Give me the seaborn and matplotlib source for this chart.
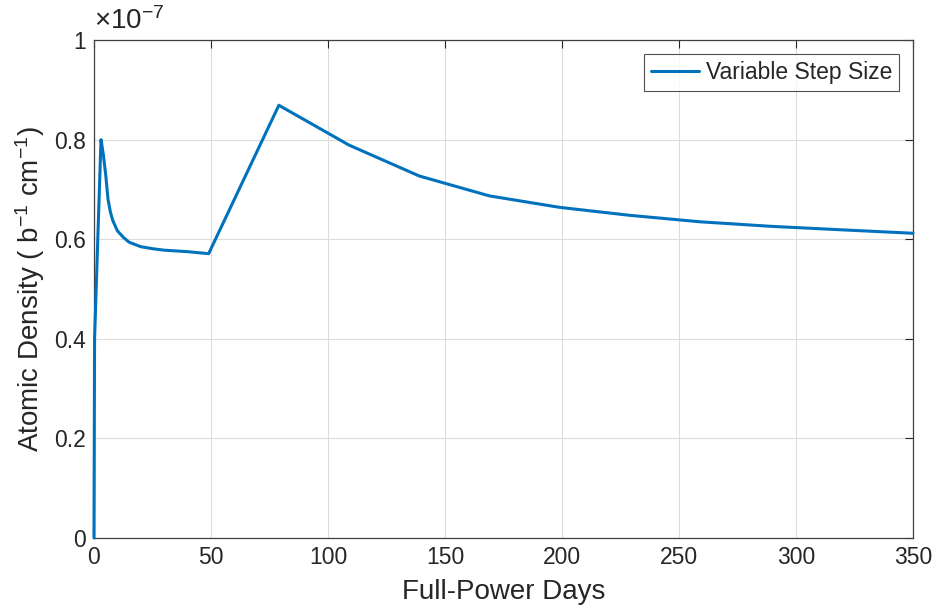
import matplotlib
matplotlib.use("Agg")
import matplotlib.pyplot as plt
import seaborn as sns
import pandas as pd
import numpy as np

# full-power days and atomic density (in units of 1e-7 b^-1 cm^-1)
days = [0, 0.25, 3, 4, 5, 6, 7, 8, 10, 12.5, 15, 20, 25, 30, 40, 49,
        79, 109, 139, 169, 199, 229, 259, 289, 319, 350]
density = [0.0, 0.40, 0.80, 0.77, 0.73, 0.68, 0.655, 0.638, 0.617, 0.604, 0.594, 0.585, 0.581, 0.578, 0.575, 0.571,
           0.869, 0.789, 0.727, 0.687, 0.664, 0.648, 0.635, 0.626, 0.619, 0.612]
series_name = "Variable Step Size"

df = pd.DataFrame({"days": days, "density": density, "series": series_name})

sns.set_theme(style="white")
plt.rcParams['font.family'] = ['Liberation Sans', 'DejaVu Sans']
plt.rcParams['mathtext.fontset'] = 'custom'
plt.rcParams['mathtext.rm'] = 'Liberation Sans'
plt.rcParams['mathtext.it'] = 'Liberation Sans'

fig = plt.figure(figsize=(9.37, 6.16), dpi=100)
ax = fig.add_axes([0.1003, 0.1266, 0.8741, 0.8084])

sns.lineplot(data=df, x="days", y="density", hue="series", palette=["#0072BD"],
             linewidth=2.2, ax=ax, sort=False)
for ln in ax.get_lines():
    ln.set_clip_on(False)
    ln.set_zorder(5)

ax.set_xlim(0, 350)
ax.set_ylim(0, 1)
ax.set_xticks(np.arange(0, 351, 50))
ax.set_yticks([0, 0.2, 0.4, 0.6, 0.8, 1.0])
ax.set_yticklabels(["0", "0.2", "0.4", "0.6", "0.8", "1"])
ax.grid(True, color="#dcdcdc", linewidth=0.8)
ax.tick_params(direction="in", length=6, width=0.8, colors="#262626", labelsize=16.5,
               top=True, right=True, pad=6)
for t in ax.get_xticklabels() + ax.get_yticklabels():
    t.set_color("#262626")
for s in ax.spines.values():
    s.set_color("#404040")
    s.set_linewidth(0.9)

ax.set_xlabel("Full-Power Days", fontsize=20, color="#262626", labelpad=7)
ax.set_ylabel("Atomic Density ( b$^{-1}$ cm$^{-1}$)", fontsize=20, color="#262626", labelpad=5)
ax.text(0.0, 1.01, r"$\times$10$^{-7}$", transform=ax.transAxes, fontsize=20,
        color="#262626", ha="left", va="bottom")

leg = ax.legend(loc="upper right", fontsize=16.5, frameon=True, fancybox=False,
                handlelength=2.1, borderpad=0.3, borderaxespad=0.6, handletextpad=0.3)
leg.get_frame().set_edgecolor("#262626")
leg.get_frame().set_linewidth(0.8)

plt.savefig("out.png", dpi=100)
